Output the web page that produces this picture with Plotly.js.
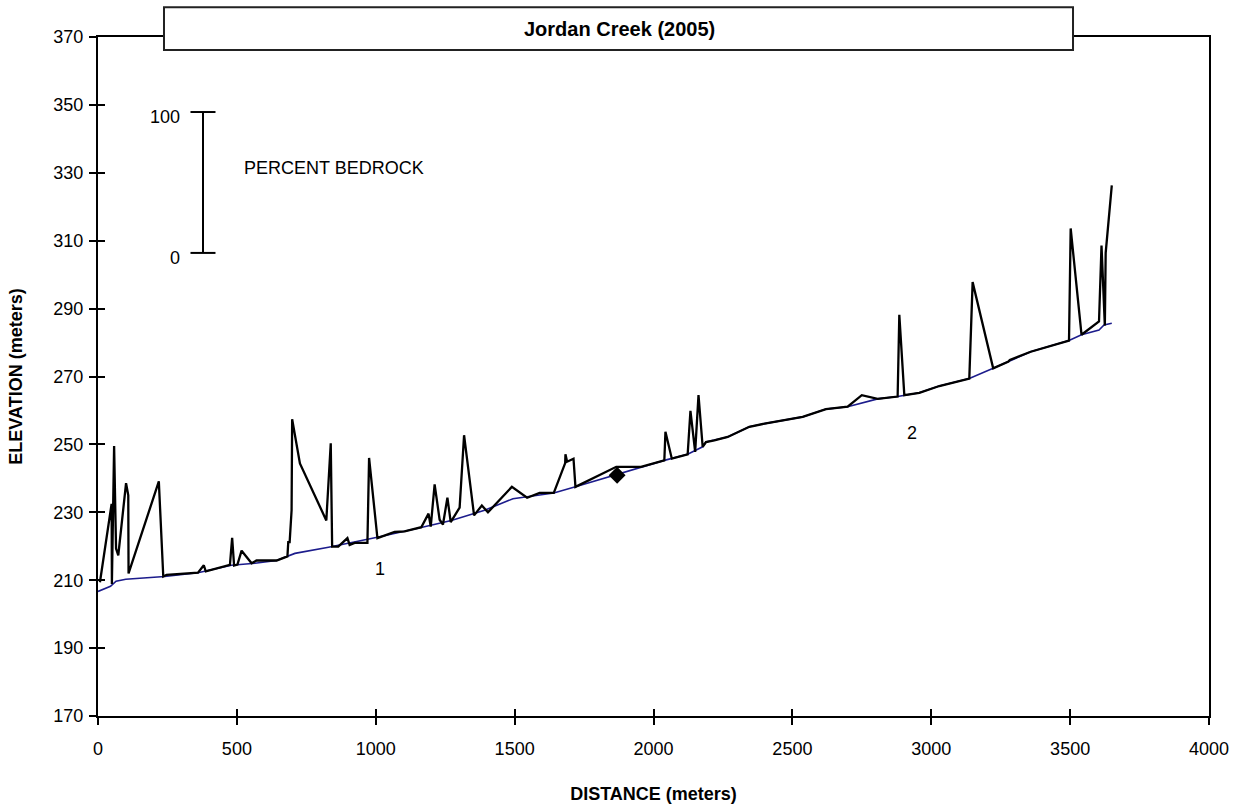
<!DOCTYPE html>
<html>
<head>
<meta charset="utf-8">
<script src="https://cdn.plot.ly/plotly-3.0.1.min.js"></script>
<style>html,body{margin:0;padding:0;background:#fff;}#chart{width:1246px;height:808px;}</style>
</head>
<body>
<div id="chart"></div>
<script>
// Stream bed profile (blue line)
var profileDistance = [0, 45, 65, 100, 240, 360, 480, 565, 643, 683, 709, 830, 1010, 1152, 1272, 1392, 1494, 1545, 1641, 1719, 1860, 1955, 2039, 2123, 2177, 2189, 2267, 2345, 2405, 2537, 2621, 2699, 2807, 2879, 2957, 3029, 3137, 3223, 3278, 3358, 3496, 3541, 3604, 3622, 3650];
var profileElevation = [206.7, 208.2, 209.7, 210.3, 211.1, 212.2, 214.4, 215.0, 215.8, 217.0, 217.9, 219.7, 222.7, 225.3, 227.6, 230.6, 234.0, 234.6, 235.7, 237.5, 240.9, 243.4, 245.3, 247.1, 249.3, 250.7, 252.2, 255.2, 256.2, 258.1, 260.4, 261.1, 263.4, 264.1, 265.2, 267.2, 269.4, 272.4, 274.4, 277.3, 280.6, 282.3, 283.7, 285.2, 285.7];

// Percent bedrock line (black), plotted in elevation units above the profile
var bedrockDistance = [7, 49, 50, 58, 65, 73, 101, 109, 110, 219, 235, 247, 360, 381, 388, 475, 483, 490, 502, 517, 553, 571, 643, 682, 685, 690, 697, 699, 727, 822, 838, 843, 865, 898, 906, 924, 970, 976, 1006, 1020, 1044, 1068, 1104, 1164, 1190, 1198, 1212, 1230, 1242, 1258, 1270, 1302, 1318, 1354, 1382, 1404, 1490, 1545, 1590, 1641, 1682, 1683, 1689, 1712, 1719, 1866, 1955, 2039, 2043, 2066, 2123, 2133, 2150, 2162, 2177, 2189, 2219, 2267, 2345, 2405, 2537, 2621, 2699, 2750, 2807, 2879, 2885, 2903, 2957, 3029, 3137, 3149, 3223, 3278, 3283, 3358, 3496, 3502, 3541, 3604, 3613, 3625, 3628, 3650];
var bedrockElevation = [209.4, 232.5, 208.9, 249.5, 219.3, 217.3, 238.6, 235.0, 212.0, 239.1, 211.1, 211.6, 212.2, 214.4, 212.6, 214.5, 222.5, 214.3, 214.6, 218.7, 215.0, 215.8, 215.8, 217.0, 221.2, 221.2, 230.6, 257.4, 244.4, 227.6, 250.3, 219.9, 219.9, 222.4, 220.4, 221.0, 221.0, 246.0, 222.4, 222.8, 223.7, 224.2, 224.4, 225.6, 229.6, 225.8, 238.2, 227.8, 226.4, 234.3, 227.1, 231.4, 252.7, 229.1, 232.0, 230.0, 237.5, 234.3, 235.7, 235.7, 244.5, 247.1, 244.9, 245.8, 237.5, 243.4, 243.4, 245.3, 253.7, 245.8, 247.1, 259.9, 247.8, 264.5, 249.3, 250.7, 251.2, 252.2, 255.2, 256.2, 258.1, 260.4, 261.1, 264.5, 263.4, 264.1, 288.2, 264.5, 265.2, 267.2, 269.4, 297.8, 272.4, 274.4, 274.9, 277.3, 280.6, 313.6, 282.3, 286.2, 308.6, 285.0, 306.4, 326.3];

// Single marker
var markerDistance = [1869];
var markerElevation = [240.9];

// Reach labels
var reachLabels = ["1", "2"];
var reachLabelDistance = [1014, 2931];
var reachLabelElevation = [213.4, 253.3];

// Percent bedrock scale bar: [0 %, 100 %] in elevation units
var scaleLabels = ["0", "100"];
var scaleBarDistance = 378;
var scaleBarElevation = [306.4, 347.9];

var xTicks = [0, 500, 1000, 1500, 2000, 2500, 3000, 3500, 4000];
var yTicks = [170, 190, 210, 230, 250, 270, 290, 310, 330, 350, 370];

var FONT = "Liberation Sans, Arial, sans-serif";

var traces = [
  {x: profileDistance, y: profileElevation, type: "scatter", mode: "lines",
   line: {color: "#1c1c8c", width: 1.6}, hoverinfo: "skip", showlegend: false},
  {x: bedrockDistance, y: bedrockElevation, type: "scatter", mode: "lines",
   line: {color: "#000000", width: 2.3}, hoverinfo: "skip", showlegend: false},
  {x: markerDistance, y: markerElevation, type: "scatter", mode: "markers",
   marker: {symbol: "diamond", size: 13, color: "#000000"}, showlegend: false},
  {x: [], y: [], xaxis: "x2", yaxis: "y2", type: "scatter", showlegend: false}
];

var axisCommon = {
  showgrid: false, zeroline: false, showline: true, linecolor: "#000", linewidth: 2,
  ticks: "outside", ticklen: 7, tickwidth: 2, tickcolor: "#000",
  tickfont: {family: FONT, size: 18, color: "#000"}
};

var layout = {
  width: 1246, height: 808,
  margin: {l: 98, r: 37, t: 37, b: 92},
  paper_bgcolor: "#fff", plot_bgcolor: "#fff",
  showlegend: false,
  xaxis: Object.assign({}, axisCommon, {
    range: [0, 4000], tickvals: xTicks, ticktext: xTicks.map(String), mirror: true,
    ticklabelstandoff: 8,
    title: {text: "DISTANCE (meters)", font: {family: FONT, size: 18, color: "#000", weight: "bold"}, standoff: 30}
  }),
  yaxis: Object.assign({}, axisCommon, {
    range: [170, 370], tickvals: yTicks, ticktext: yTicks.map(String), mirror: true,
    ticklabelstandoff: 2,
    title: {text: "ELEVATION (meters)", font: {family: FONT, size: 18, color: "#000", weight: "bold"}, standoff: 26}
  }),
  xaxis2: {overlaying: "x", range: [0, 4000], tickvals: xTicks, showticklabels: false,
    ticks: "inside", ticklen: 7, tickwidth: 2, tickcolor: "#000", showgrid: false, zeroline: false, showline: false, side: "bottom"},
  yaxis2: {overlaying: "y", range: [170, 370], tickvals: yTicks, showticklabels: false,
    ticks: "inside", ticklen: 7, tickwidth: 2, tickcolor: "#000", showgrid: false, zeroline: false, showline: false, side: "left"},
  shapes: [
    {type: "rect", xref: "paper", yref: "paper", x0: 0.0594, x1: 0.8776, y0: 0.981, y1: 1.0437,
     fillcolor: "#fff", line: {color: "#222", width: 2}, layer: "above"},
    {type: "line", xref: "x", yref: "y", x0: scaleBarDistance, x1: scaleBarDistance, y0: scaleBarElevation[0], y1: scaleBarElevation[1],
     line: {color: "#000", width: 2}},
    {type: "line", xref: "x", yref: "y", x0: scaleBarDistance - 45, x1: scaleBarDistance + 45, y0: scaleBarElevation[0], y1: scaleBarElevation[0],
     line: {color: "#000", width: 2}},
    {type: "line", xref: "x", yref: "y", x0: scaleBarDistance - 45, x1: scaleBarDistance + 45, y0: scaleBarElevation[1], y1: scaleBarElevation[1],
     line: {color: "#000", width: 2}}
  ],
  annotations: [
    {xref: "paper", yref: "paper", x: 0.469, y: 1.0124, text: "<b>Jordan Creek (2005)</b>", showarrow: false,
     font: {family: FONT, size: 20, color: "#000"}, xanchor: "center", yanchor: "middle"},
    {xref: "x", yref: "y", x: scaleBarDistance - 75, y: scaleBarElevation[1] - 1.5, text: scaleLabels[1], showarrow: false,
     font: {family: FONT, size: 18, color: "#000"}, xanchor: "right", yanchor: "middle"},
    {xref: "x", yref: "y", x: scaleBarDistance - 75, y: scaleBarElevation[0] - 1.5, text: scaleLabels[0], showarrow: false,
     font: {family: FONT, size: 18, color: "#000"}, xanchor: "right", yanchor: "middle"},
    {xref: "x", yref: "y", x: 518, y: 331.4, text: "PERCENT BEDROCK", showarrow: false,
     font: {family: FONT, size: 18, color: "#000"}, xanchor: "left", yanchor: "middle"},
    {xref: "x", yref: "y", x: reachLabelDistance[0], y: reachLabelElevation[0], text: reachLabels[0], showarrow: false,
     font: {family: FONT, size: 18, color: "#000"}},
    {xref: "x", yref: "y", x: reachLabelDistance[1], y: reachLabelElevation[1], text: reachLabels[1], showarrow: false,
     font: {family: FONT, size: 18, color: "#000"}}
  ]
};

Plotly.newPlot("chart", traces, layout, {displayModeBar: false, staticPlot: true});
</script>
</body>
</html>
